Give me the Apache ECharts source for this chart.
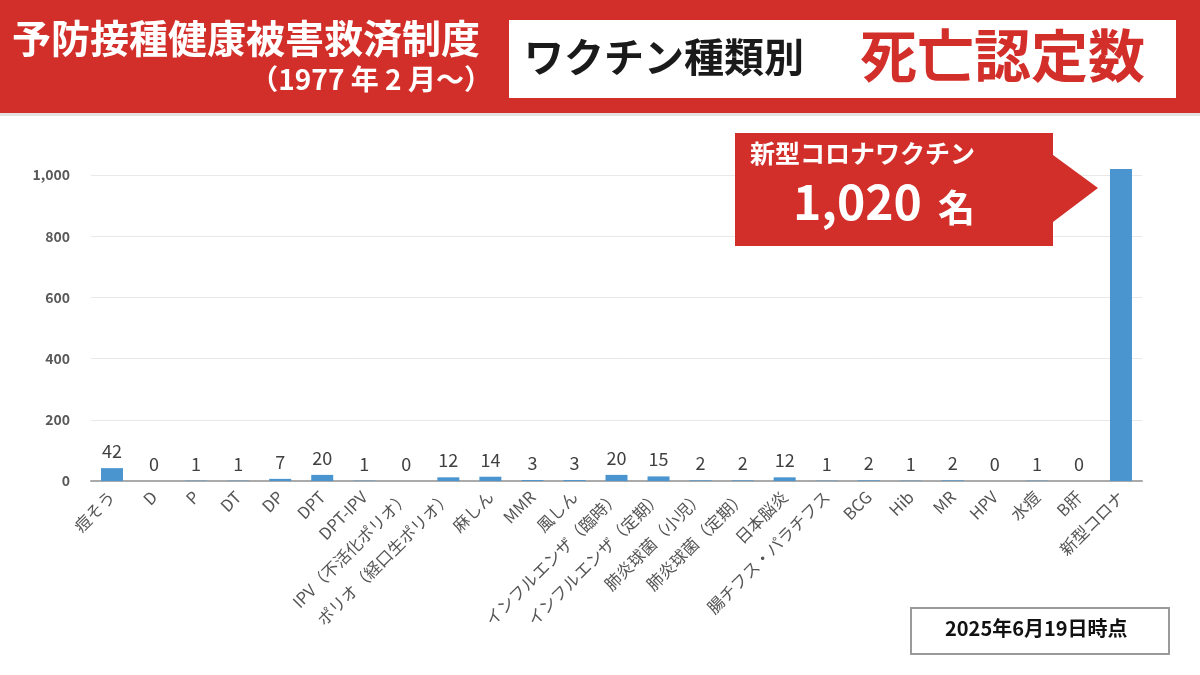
<!DOCTYPE html>
<html>
<head>
<meta charset="utf-8">
<script src="https://cdn.jsdelivr.net/npm/echarts@6/dist/echarts.min.js"></script>
<style>
  html, body { margin: 0; padding: 0; background: #fff; }
  #main { width: 1200px; height: 675px; }
</style>
</head>
<body>
<div id="main"></div>
<script>
// ワクチン種類別 死亡認定数
var vaccines = ['痘そう', 'D', 'P', 'DT', 'DP', 'DPT', 'DPT-IPV', 'IPV（不活化ポリオ）',
  'ポリオ（経口生ポリオ）', '麻しん', 'MMR', '風しん', 'インフルエンザ（臨時）',
  'インフルエンザ（定期）', '肺炎球菌（小児）', '肺炎球菌（定期）', '日本脳炎',
  '腸チフス・パラチフス', 'BCG', 'Hib', 'MR', 'HPV', '水痘', 'B肝', '新型コロナ'];
var deaths = [42, 0, 1, 1, 7, 20, 1, 0, 12, 14, 3, 3, 20, 15, 2, 2, 12, 1, 2, 1, 2, 0, 1, 0, 1020];
var yTicks = [0, 200, 400, 600, 800, 1000];

var JP = '"Noto Sans CJK JP", "Noto Sans", sans-serif';
var RED = '#d32f2a';

var myChart = echarts.init(document.getElementById('main'));

var option = {
  backgroundColor: '#fff',
  animation: false,
  grid: { left: 91, right: 58, top: 175, bottom: 194 },
  xAxis: {
    type: 'category',
    data: vaccines,
    axisTick: { show: false },
    axisLine: { lineStyle: { color: '#aaa', width: 2 } },
    axisLabel: {
      rotate: 45, interval: 0, margin: 13,
      color: '#555', fontSize: 16.5, fontFamily: JP
    }
  },
  yAxis: {
    type: 'value',
    min: yTicks[0], max: yTicks[yTicks.length - 1], interval: 200,
    axisLine: { show: false },
    axisTick: { show: false },
    splitLine: { lineStyle: { color: '#e8e8e8' } },
    axisLabel: {
      margin: 21, color: '#595959', fontSize: 14, fontWeight: 'bold', fontFamily: JP,
      formatter: function (v) { return v.toLocaleString('en-US'); }
    }
  },
  series: [{
    type: 'bar',
    data: deaths.map(function (v, i) {
      return i === deaths.length - 1 ? { value: v, label: { show: false } } : v;
    }),
    barWidth: 22,
    clip: false,
    itemStyle: { color: '#4a95d0' },
    label: {
      show: true, position: 'top', distance: 8,
      color: '#404040', fontSize: 18, fontFamily: JP
    }
  }],
  graphic: [
    // header band
    { type: 'rect', z: 100, left: 0, top: 0, shape: { width: 1200, height: 113 }, style: { fill: RED }, silent: true },
    { type: 'rect', z: 100, left: 0, top: 113, shape: { width: 1200, height: 3 }, style: { fill: '#e2e2e2' }, silent: true },
    { type: 'text', z: 101, left: 12, top: 19, style: { text: '予防接種健康被害救済制度', fill: '#fff', font: 'bold 39px ' + JP } },
    { type: 'text', z: 101, right: 708, top: 65, style: { text: '（1977 年 2 月～）', fill: '#fff', font: 'bold 28px ' + JP } },
    { type: 'rect', z: 101, left: 509, top: 20, shape: { width: 667, height: 78 }, style: { fill: '#fff' }, silent: true },
    { type: 'text', z: 102, left: 524, top: 37, style: { text: 'ワクチン種類別', fill: '#1a1a1a', font: 'bold 40px ' + JP } },
    { type: 'text', z: 102, left: 860, top: 27, style: { text: '死亡認定数', fill: RED, font: 'bold 57px ' + JP } },
    // callout
    {
      type: 'polygon', z: 100, silent: true,
      shape: { points: [[735, 133], [1053, 133], [1053, 155], [1098, 188], [1053, 222], [1053, 246], [735, 246]] },
      style: { fill: RED }
    },
    { type: 'text', z: 101, left: 750, top: 141, style: { text: '新型コロナワクチン', fill: '#fff', font: 'bold 25px ' + JP } },
    { type: 'text', z: 101, left: 793, top: 178, style: { text: '1,020', fill: '#fff', font: 'bold 48px ' + JP } },
    { type: 'text', z: 101, left: 938, top: 189, style: { text: '名', fill: '#fff', font: 'bold 37px ' + JP } },
    // date box
    { type: 'rect', z: 100, left: 910, top: 607, shape: { width: 258, height: 46 }, style: { fill: '#fff', stroke: '#9a9a9a', lineWidth: 2 } },
    { type: 'text', z: 101, left: 945, top: 618, style: { text: '2025年6月19日時点', fill: '#111', font: 'bold 20px ' + JP } }
  ]
};
myChart.setOption(option);
</script>
</body>
</html>
